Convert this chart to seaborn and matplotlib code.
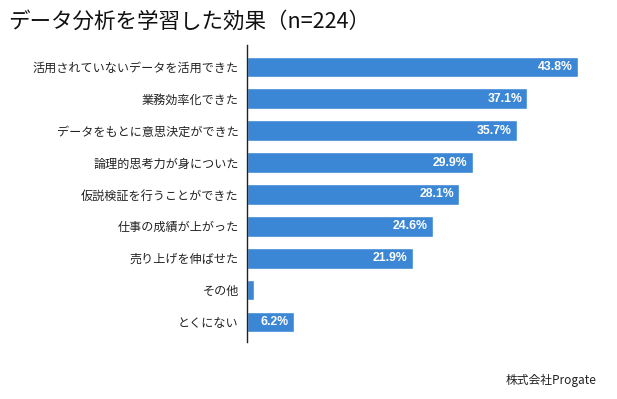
import matplotlib
matplotlib.use("Agg")
import matplotlib.pyplot as plt
import seaborn as sns
import pandas as pd

categories = ["活用されていないデータを活用できた", "業務効率化できた", "データをもとに意思決定ができた",
              "論理的思考力が身についた", "仮説検証を行うことができた", "仕事の成績が上がった",
              "売り上げを伸ばせた", "その他", "とくにない"]
values = [43.8, 37.1, 35.7, 29.9, 28.1, 24.6, 21.9, 0.9, 6.2]
value_labels = ["43.8%", "37.1%", "35.7%", "29.9%", "28.1%", "24.6%", "21.9%", "", "6.2%"]

sns.set_theme(style="white")
plt.rcParams['font.family'] = ['Noto Sans CJK JP', 'DejaVu Sans']

df = pd.DataFrame({"cat": categories, "val": values})
fig = plt.figure(figsize=(6.17, 3.99), dpi=100)
ax = fig.add_axes([247/617, 1-342/399, (617-247)/617, (342-45)/399])
sns.barplot(data=df, y="cat", x="val", orient="h", color="#3b87d5", saturation=1,
            width=0.65, ax=ax)
ax.set_xlim(0, 48.95)
ax.set_ylim(8.63, -0.69)
ax.set_xlabel("")
ax.set_ylabel("")
ax.set_xticks([])
for s in ["top", "right", "bottom"]:
    ax.spines[s].set_visible(False)
ax.spines["left"].set_color("#222222")
ax.spines["left"].set_linewidth(1.0)
ax.tick_params(axis="y", length=0, pad=6, labelsize=8.7, labelcolor="#222222")

for i, (v, lab) in enumerate(zip(values, value_labels)):
    if lab:
        ax.text(v - 0.7, i, lab, ha="right", va="center", color="white",
                fontsize=8.8, fontweight="bold", family=['Liberation Sans'])

fig.text(8/617, 1-22/399, "データ分析を学習した効果（n=224）", fontsize=15.5,
         ha="left", va="center", color="#111111")
fig.text(597/617, 1-380/399, "株式会社Progate", fontsize=8.5, ha="right", va="center", color="#222222")

fig.savefig("out.png", dpi=100)
